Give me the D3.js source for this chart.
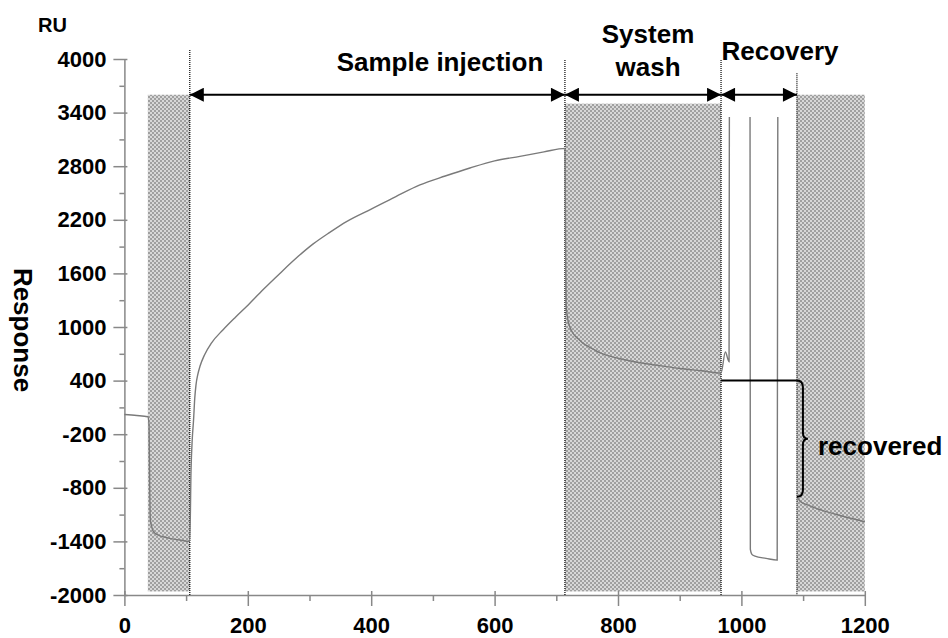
<!DOCTYPE html>
<html>
<head>
<meta charset="utf-8">
<script src="https://cdn.jsdelivr.net/npm/d3@7"></script>
<style>
  html, body { margin: 0; padding: 0; background: #fff; }
  svg { display: block; }
  text { font-family: "Liberation Sans", Arial, sans-serif; font-weight: bold; fill: #000; }
</style>
</head>
<body>
<svg id="chart" width="948" height="638"></svg>
<script>
// ---------------- data ----------------
const xTicks = [0, 200, 400, 600, 800, 1000, 1200];
const xMinor = [100, 300, 500, 700, 900, 1100];
const yTicks = [-2000, -1400, -800, -200, 400, 1000, 1600, 2200, 2800, 3400, 4000];
const yMinor = [-1700, -1100, -500, 100, 700, 1300, 1900, 2500, 3100, 3700];

// sensorgram (time s, response RU); null = gap in trace
const traceT  = [0, 20, 38, 40, 41, 42, 44, 47, 55, 70, 90, 106,
                 108, 110, 112, 114, 116, 119, 122.5, 130, 141, 160, 180, 198, 225, 252, 280, 306, 333, 360, 400, 440, 479, 520, 560, 600, 641, 680, 714,
                 715, 716, 718, 722, 727, 735, 743, 755, 771, 800, 836, 870, 900, 935, 967,
                 974, 980, 980.5, 997,
                 1014, 1014.5, 1017, 1022, 1040, 1058, 1059, 1075,
                 1090, 1095, 1110, 1130, 1160, 1200];
const traceRU = [20, 10, -5, -100, -800, -1150, -1230, -1290, -1330, -1360, -1385, -1400,
                 -600, -250, -50, 200, 350, 470, 560, 690, 820, 970, 1110, 1230, 1420, 1600, 1780, 1930, 2060, 2180, 2320, 2460, 2590, 2690, 2780, 2860, 2910, 2960, 3000,
                 2000, 1250, 1110, 1000, 930, 870, 820, 770, 710, 650, 600, 565, 535, 510, 485,
                 720, 610, 3350, null,
                 3350, -1490, -1545, -1565, -1590, -1610, 3350, null,
                 -900, -950, -1000, -1050, -1110, -1180];

// shaded (buffer) regions
const shadeStart = [38, 714, 1090];
const shadeEnd   = [106, 967, 1200];
const shadeTop   = [3600, 3500, 3600];
const shadeBottom = -1960;

// phase markers & arrows
const markerT   = [106, 714, 967, 1090];
const markerTop = [4100, 3990, 3990, 3840];
const phaseNames = ["Sample injection", "System wash", "Recovery"];
const phaseStart = [106, 714, 967];
const phaseEnd   = [714, 967, 1090];
const arrowRU = 3600;

// recovered level
const recoveredLevel = 400;
const recoveredLow = -900;

// ---------------- drawing ----------------
const svg = d3.select("#chart");
const x = d3.scaleLinear().domain([0, 1200]).range([124.4, 864.8]);
const y = d3.scaleLinear().domain([-2000, 4000]).range([595, 59]);
const fmt = d => String(d);

const defs = svg.append("defs");
const pat = defs.append("pattern").attr("id", "chk")
  .attr("width", 4).attr("height", 4).attr("patternUnits", "userSpaceOnUse");
pat.append("rect").attr("width", 4).attr("height", 4).attr("fill", "#d8d8d8");
pat.append("rect").attr("width", 2).attr("height", 2).attr("fill", "#a0a0a0");
pat.append("rect").attr("x", 2).attr("y", 2).attr("width", 2).attr("height", 2).attr("fill", "#a0a0a0");

const marker = defs.append("marker").attr("id", "ah")
  .attr("viewBox", "0 0 10 10").attr("refX", 10).attr("refY", 5)
  .attr("markerUnits", "userSpaceOnUse")
  .attr("markerWidth", 16).attr("markerHeight", 14)
  .attr("orient", "auto-start-reverse");
marker.append("path").attr("d", "M0,0 L10,5 L0,10 Z").attr("fill", "#000");

// shaded regions
svg.append("g").selectAll("rect").data(shadeStart).join("rect")
  .attr("x", (d, i) => x(d))
  .attr("width", (d, i) => x(shadeEnd[i]) - x(d))
  .attr("y", (d, i) => y(shadeTop[i]))
  .attr("height", (d, i) => y(shadeBottom) - y(shadeTop[i]))
  .attr("fill", "url(#chk)");

// axes
const axisColor = "#888";
const gx = svg.append("g").attr("transform", `translate(0,${y(-2000)})`)
  .call(d3.axisBottom(x).tickValues(xTicks).tickSizeInner(11).tickSizeOuter(0).tickPadding(11).tickFormat(fmt));
gx.selectAll(".tick line").attr("y1", -4);
const gxm = svg.append("g").attr("transform", `translate(0,${y(-2000)})`)
  .call(d3.axisBottom(x).tickValues(xMinor).tickSizeInner(6).tickSizeOuter(0).tickFormat(""));
gxm.select(".domain").remove();

const gy = svg.append("g").attr("transform", `translate(${x(0)},0)`)
  .call(d3.axisLeft(y).tickValues(yTicks).tickSizeInner(11).tickSizeOuter(0).tickPadding(7).tickFormat(fmt));
gy.selectAll(".tick line").attr("x1", 3);
const gym = svg.append("g").attr("transform", `translate(${x(0)},0)`)
  .call(d3.axisLeft(y).tickValues(yMinor).tickSizeInner(5).tickSizeOuter(0).tickFormat(""));
gym.select(".domain").remove();

[gx, gxm, gy, gym].forEach(g => {
  g.selectAll("path, line").attr("stroke", axisColor).attr("stroke-width", 1.5);
  g.selectAll("text").attr("font-size", 22).attr("font-family", "Liberation Sans, Arial, sans-serif")
    .attr("font-weight", "bold").attr("fill", "#000");
});
gx.selectAll("text").attr("dy", "0.71em");

// marker dotted lines
svg.append("g").selectAll("line").data(markerT).join("line")
  .attr("x1", d => x(d)).attr("x2", d => x(d))
  .attr("y1", (d, i) => y(markerTop[i])).attr("y2", y(-2000))
  .attr("stroke", "#000").attr("stroke-width", 1.2).attr("stroke-dasharray", "1,1");

// trace
const pts = traceT.map((t, i) => ({ t, v: traceRU[i] }));
const line = d3.line().defined(d => d.v !== null).x(d => x(d.t)).y(d => y(d.v)).curve(d3.curveMonotoneX);
svg.append("path").datum(pts).attr("d", line)
  .attr("fill", "none").attr("stroke", "#7a7a7a").attr("stroke-width", 1.4);

// recovered level line
svg.append("line")
  .attr("x1", x(967)).attr("x2", x(1090))
  .attr("y1", y(recoveredLevel)).attr("y2", y(recoveredLevel))
  .attr("stroke", "#000").attr("stroke-width", 2);

// brace
const bx = x(1090), bt = y(recoveredLevel), bb = y(recoveredLow), bm = (bt + bb) / 2;
svg.append("path")
  .attr("d", `M${bx},${bt} Q${bx + 6},${bt} ${bx + 6},${bt + 7} L${bx + 6},${bm - 6} Q${bx + 6},${bm} ${bx + 11},${bm} Q${bx + 6},${bm} ${bx + 6},${bm + 6} L${bx + 6},${bb - 7} Q${bx + 6},${bb} ${bx},${bb}`)
  .attr("fill", "none").attr("stroke", "#000").attr("stroke-width", 2);

// arrows
svg.append("g").selectAll("line").data(phaseStart).join("line")
  .attr("x1", d => x(d)).attr("x2", (d, i) => x(phaseEnd[i]))
  .attr("y1", y(arrowRU)).attr("y2", y(arrowRU))
  .attr("stroke", "#000").attr("stroke-width", 2)
  .attr("marker-start", "url(#ah)").attr("marker-end", "url(#ah)");

// labels
const lab = svg.append("g").attr("font-size", 26);
lab.append("text").attr("x", 440).attr("y", 71).attr("text-anchor", "middle").text(phaseNames[0]);
const sw = phaseNames[1].split(" ");
lab.append("text").attr("x", 648).attr("y", 43).attr("text-anchor", "middle").text(sw[0]);
lab.append("text").attr("x", 648).attr("y", 76).attr("text-anchor", "middle").text(sw[1]);
lab.append("text").attr("x", 780).attr("y", 60).attr("text-anchor", "middle").text(phaseNames[2]);
lab.append("text").attr("x", 818).attr("y", 455).text("recovered");

svg.append("text").attr("x", 38).attr("y", 32).attr("font-size", 20).text("RU");
svg.append("text").attr("transform", "translate(14,330) rotate(90)")
  .attr("text-anchor", "middle").attr("font-size", 26).text("Response");
</script>
</body>
</html>
